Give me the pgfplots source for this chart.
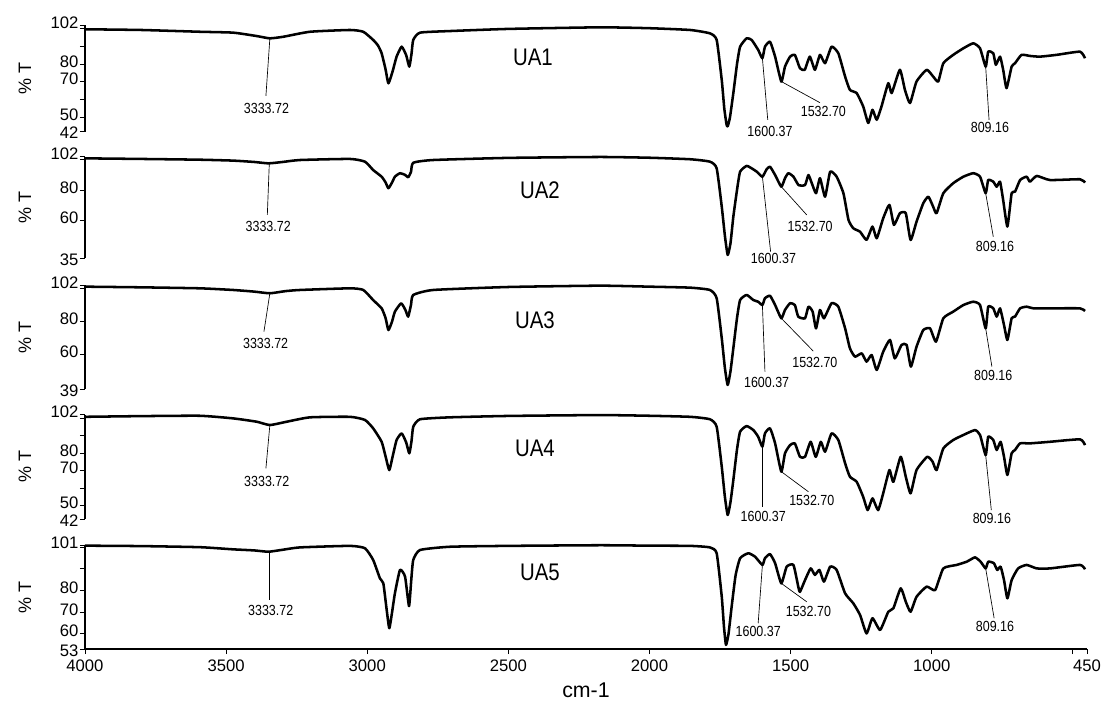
\documentclass[border=0pt]{standalone}
\usepackage{fontspec}
\setmainfont{Liberation Sans}
\newfontfamily\narrowfont{Liberation Sans}[FakeStretch=0.85]
\usepackage{pgfplots}
\pgfplotsset{compat=1.18}
\pgfplotsset{
  spec/.style={
    scale only axis, width=751.5pt,
    xmin=450, xmax=4000, x dir=reverse,
    axis y line*=left,
    tick align=outside,
    major tick length=3.75pt,
    every tick/.style={black, line width=0.6pt},
    axis line style={line width=0.9pt},
    clip=false,
    yticklabel style={font=\fontsize{12.5}{14}\selectfont, inner sep=0pt, xshift=-1pt, yshift=2pt},
    extra y tick style={yticklabel style={yshift=-3pt}},
    ylabel={\% T},
    every axis y label/.style={at={(axis description cs:0,0.5)}, xshift=-45pt, rotate=90, anchor=center, font=\fontsize{13.5}{16}\selectfont},
    /pgf/number format/assume math mode=true,
  },
  upper/.style={axis x line=none, xtick=\empty},
  curve/.style={black, line width=1.9pt, line join=round, smooth, tension=0.3, mark=none},
}
\tikzset{
  ann/.style={black, line width=0.5pt},
  lab/.style={font=\narrowfont\fontsize{11}{12}\selectfont, inner sep=0pt},
  ua/.style={font=\narrowfont\fontsize{18}{20}\selectfont, inner sep=0pt},
}
\begin{document}
\begin{tikzpicture}
\path[use as bounding box] (0,0) rectangle (827.25pt,-528pt);
% ---------------- UA1
\begin{axis}[spec, upper, at={(63.75pt,-18.75pt)}, anchor=north west, height=80.0pt,
  ymin=42, ymax=102, ytick={50,60,70,80,90,100,102}, yticklabels={50,,70,80,,,102},
  extra y ticks={42}, extra y tick labels={42}]
\addplot[curve] coordinates {(4000,99.6)(3800,99.2)(3593,98.2)(3475,97.7)(3392,95.8)(3345,94.5)(3297,95.4)(3203,98.2)(3061,99.2)(3014,98.2)(2979,93.6)(2962,90.5)(2949,86.1)(2935,77)(2925,69.2)(2910,76)(2896,84.2)(2878,89.8)(2862,85)(2851,78.6)(2843,86)(2837,93.6)(2813,97.7)(2707,98.6)(2500,99.8)(2175,100.7)(2000,100.2)(1856,99.2)(1786,97.3)(1762,93.6)(1744,71)(1735,55)(1727,46)(1723,45)(1715,50)(1703,63.7)(1690,80)(1679,89.8)(1656,94.5)(1638,93.6)(1615,88)(1600,83.3)(1591,89.8)(1573,92.6)(1555,84.2)(1533,70.2)(1520,78.6)(1502,84.2)(1485,85.2)(1467,77.7)(1450,76.8)(1432,84.2)(1414,76.8)(1396,85.2)(1378,80.5)(1355,89.8)(1331,86.1)(1307,73)(1290,65.5)(1266,63.7)(1243,56.2)(1225,46.9)(1210,54.3)(1195,48.7)(1178,56.2)(1154,69.3)(1142,63.7)(1113,76.8)(1095,65.5)(1077,58.1)(1054,70.2)(1018,76.8)(995,73)(977,70.2)(959,80.5)(924,85.2)(888,88.9)(853,91.7)(829,88.9)(809,78.6)(800,87)(782,86.1)(773,79.6)(758,84.2)(747,76.8)(735,66.5)(717,78.6)(705,80.5)(682,85.2)(652,84.6)(617,84.2)(558,85.2)(475,87)(457,83.3)};
\draw[ann] (axis cs:3345,94.5) -- (axis cs:3359,62.1);
\node[lab] at (axis cs:3357,55.2) {3333.72};
\draw[ann] (axis cs:1600,83.3) -- (axis cs:1581,48.6);
\node[lab] at (axis cs:1573,42) {1600.37};
\draw[ann] (axis cs:1533,70.2) -- (axis cs:1396,58.3);
\node[lab] at (axis cs:1384,53.3) {1532.70};
\draw[ann] (axis cs:809,78.6) -- (axis cs:797,48.6);
\node[lab] at (axis cs:794,44.5) {809.16};
\node[ua] at (axis cs:2413,84) {UA1};
\end{axis}
% ---------------- UA2
\begin{axis}[spec, upper, at={(63.75pt,-117.5pt)}, anchor=north west, height=76.2pt,
  ymin=35, ymax=102, ytick={60,80,100,102}, yticklabels={60,80,,102},
  extra y ticks={35}, extra y tick labels={35}]
\addplot[curve] coordinates {(4000,100.9)(3800,100.5)(3593,100)(3475,99.4)(3400,98.5)(3350,97.6)(3300,98.5)(3238,99.8)(3061,100.5)(3008,98.7)(2979,93.2)(2949,88.8)(2935,85)(2925,81.2)(2912,85)(2902,88.8)(2884,91.1)(2866,90)(2855,88.4)(2845,92)(2837,98)(2766,99.8)(2500,101.2)(2175,101.8)(2000,101.3)(1856,100.3)(1786,98.7)(1762,94.3)(1744,69)(1733,50)(1723,37.2)(1713,45)(1703,62.4)(1690,80)(1679,92.1)(1656,95.9)(1638,94.3)(1620,92.1)(1600,88.8)(1585,93.7)(1573,95.4)(1555,89.9)(1533,82.2)(1520,87.8)(1508,91.1)(1490,88.8)(1472,83.3)(1449,83.3)(1437,89.9)(1425,84.5)(1410,77.9)(1396,87.8)(1378,75.6)(1360,92.1)(1337,88.8)(1313,77.9)(1295,60.3)(1278,54.8)(1254,52.5)(1231,47.1)(1210,55.9)(1195,48.2)(1172,61.4)(1150,70.2)(1134,57)(1113,64.7)(1092,64.7)(1075,47.1)(1054,59.1)(1030,71.3)(1012,75.6)(995,69)(983,64.7)(959,77.9)(924,84.5)(888,88.8)(853,91.1)(829,88.8)(809,77.9)(800,86.6)(782,85.5)(770,82.2)(758,85.5)(747,73.4)(732,55.9)(717,77.9)(705,78.9)(687,86.6)(664,88.8)(652,85.5)(628,89.3)(581,86.6)(475,87.1)(457,84.9)};
\draw[ann] (axis cs:3347,97.6) -- (axis cs:3354,63.6);
\node[lab] at (axis cs:3351,56.3) {3333.72};
\draw[ann] (axis cs:1600,88.8) -- (axis cs:1571,39.4);
\node[lab] at (axis cs:1561,35) {1600.37};
\draw[ann] (axis cs:1533,82.2) -- (axis cs:1443,63.6);
\node[lab] at (axis cs:1431,56.3) {1532.70};
\draw[ann] (axis cs:809,77.9) -- (axis cs:782,49.2);
\node[lab] at (axis cs:776,42.6) {809.16};
\node[ua] at (axis cs:2388,80) {UA2};
\end{axis}
% ---------------- UA3
\begin{axis}[spec, upper, at={(63.75pt,-213.75pt)}, anchor=north west, height=78.2pt,
  ymin=39, ymax=102, ytick={60,80,100,102}, yticklabels={60,80,,102},
  extra y ticks={39}, extra y tick labels={39}]
\addplot[curve] coordinates {(4000,101)(3800,100.6)(3593,100)(3475,99)(3400,98)(3345,97)(3290,98.3)(3238,99)(3061,100)(3014,99)(2979,92.9)(2949,87.9)(2935,82)(2925,74.8)(2912,80)(2902,85.9)(2880,90.9)(2865,87)(2855,82.9)(2845,90)(2837,96)(2766,99)(2500,100.8)(2175,101.6)(2000,101)(1856,100.4)(1786,99)(1762,94)(1744,69.8)(1733,52)(1723,41.6)(1713,50)(1703,63.8)(1690,82)(1679,92.9)(1656,96)(1632,92.9)(1615,91.9)(1600,89.9)(1591,94)(1573,95.5)(1555,89.9)(1533,81.9)(1520,86.9)(1502,91)(1485,89.9)(1473,82.9)(1449,81.9)(1437,88.9)(1422,85.9)(1410,75.8)(1396,86.9)(1382,81.9)(1355,91)(1331,88.9)(1307,75.8)(1290,63.8)(1272,58.7)(1248,60.7)(1231,55.7)(1213,59.7)(1195,50.7)(1172,61.7)(1148,68.8)(1131,57.7)(1107,65.8)(1089,65.8)(1074,52.7)(1054,64.7)(1030,74.8)(1006,75.8)(985,67.8)(959,81.9)(924,85.9)(888,89.9)(853,91.9)(829,89.9)(809,75.8)(800,88.9)(782,87.9)(770,82.9)(758,87.9)(744,77.8)(732,68.8)(717,81.9)(705,82.9)(687,87.9)(664,88.9)(640,87.9)(581,87.9)(475,87.9)(457,86.3)};
\draw[ann] (axis cs:3345,97) -- (axis cs:3366,73.8);
\node[lab] at (axis cs:3360,66.8) {3333.72};
\draw[ann] (axis cs:1600,89.9) -- (axis cs:1591,49.6);
\node[lab] at (axis cs:1585,43.2) {1600.37};
\draw[ann] (axis cs:1533,81.9) -- (axis cs:1420,62.1);
\node[lab] at (axis cs:1414,55.3) {1532.70};
\draw[ann] (axis cs:809,75.8) -- (axis cs:787,52.7);
\node[lab] at (axis cs:782,47.2) {809.16};
\node[ua] at (axis cs:2406,80.9) {UA3};
\end{axis}
% ---------------- UA4
\begin{axis}[spec, upper, at={(63.75pt,-310.9pt)}, anchor=north west, height=78.6pt,
  ymin=42, ymax=102, ytick={50,60,70,80,90,100,102}, yticklabels={50,,70,80,,,102},
  extra y ticks={42}, extra y tick labels={42}]
\addplot[curve] coordinates {(4000,100.7)(3800,101.1)(3593,101.3)(3475,99.8)(3392,97.9)(3345,96)(3285,97.9)(3203,100.4)(3061,100.7)(3008,98.9)(2979,94.1)(2949,86.4)(2935,78)(2922,70.2)(2910,78)(2896,87.4)(2878,91.2)(2862,86)(2851,79.8)(2843,87)(2837,95)(2813,99.3)(2707,100.4)(2500,101.2)(2175,101.7)(2000,101.3)(1856,100.7)(1786,99.3)(1762,95)(1744,72.1)(1733,55)(1723,44.5)(1713,52)(1703,64.5)(1690,82)(1679,92.2)(1656,95.4)(1632,93.1)(1615,89.3)(1600,83.6)(1591,91.2)(1573,94.1)(1555,85.5)(1533,69.3)(1520,79.8)(1502,84.5)(1485,85.5)(1467,77.8)(1449,77.8)(1429,86.4)(1411,77.8)(1393,86.4)(1378,80.7)(1355,91.2)(1331,87.4)(1307,74.1)(1290,66.4)(1266,63.5)(1243,54.9)(1227,47.3)(1210,54)(1190,47.3)(1172,56.9)(1150,70.2)(1136,63.5)(1110,77.8)(1092,66.4)(1075,56.9)(1054,70.2)(1016,77.8)(997,75)(983,70.2)(959,82.6)(924,87.4)(888,90.3)(847,93.1)(829,90.3)(809,78.8)(800,89.3)(782,87.4)(770,81.7)(756,86.4)(744,77.8)(732,67.4)(717,79.8)(705,81.7)(687,85.5)(652,85.5)(581,86.4)(475,87.8)(457,84.5)};
\draw[ann] (axis cs:3345,96) -- (axis cs:3359,71.2);
\node[lab] at (axis cs:3356,63.5) {3333.72};
\draw[ann] (axis cs:1600,83.6) -- (axis cs:1600,49.2);
\node[lab] at (axis cs:1597,43.5) {1600.37};
\draw[ann] (axis cs:1533,69.3) -- (axis cs:1437,57.8);
\node[lab] at (axis cs:1425,53) {1532.70};
\draw[ann] (axis cs:809,78.8) -- (axis cs:789,47.3);
\node[lab] at (axis cs:787,42.6) {809.16};
\node[ua] at (axis cs:2406,82.8) {UA4};
\end{axis}
% ---------------- UA5
\begin{axis}[spec, at={(63.75pt,-408.75pt)}, anchor=north west, height=78pt,
  axis x line*=bottom,
  ymin=53, ymax=101, ytick={60,70,80,90,100,101}, yticklabels={60,70,80,,,101},
  extra y ticks={53}, extra y tick labels={53},
  xtick={4000,3500,3000,2500,2000,1500,1000,500,450},
  xticklabels={4000,3500,3000,2500,2000,1500,1000,,450},
  xticklabel style={font=\fontsize{12.5}{14}\selectfont, inner sep=1pt, yshift=-3pt},
  xlabel={cm-1},
  every axis x label/.style={at={(axis description cs:0.5,0)}, yshift=-30.75pt, anchor=center, font=\fontsize{16}{18}\selectfont}]
\addplot[curve] coordinates {(4000,100.7)(3800,100.5)(3593,100)(3475,99)(3400,98.5)(3350,97.9)(3300,98.8)(3238,99.9)(3061,100.6)(3008,99.5)(2979,94.1)(2955,85.6)(2943,83.3)(2932,72)(2922,62.6)(2912,70)(2902,78.7)(2884,89.5)(2866,86.4)(2852,72.8)(2844,85)(2837,94.1)(2813,98.7)(2707,100.2)(2500,100.6)(2175,100.9)(2000,100.7)(1856,100.6)(1786,99.9)(1762,97.2)(1744,77.1)(1736,63)(1729,54.9)(1720,60)(1709,72.5)(1695,87)(1679,94.9)(1650,97.2)(1626,95.6)(1600,91.8)(1591,94.9)(1573,96.8)(1555,92.6)(1533,83.3)(1514,91)(1490,91.8)(1473,81.8)(1467,79.4)(1449,84.8)(1429,90.2)(1414,87.2)(1398,89.5)(1382,84.1)(1360,91)(1337,89.5)(1307,78.7)(1278,74.1)(1254,68.7)(1231,60.2)(1210,67.2)(1183,61.8)(1154,70.2)(1136,71.8)(1110,81)(1092,74.8)(1075,70.2)(1054,77.1)(1018,81.8)(988,80.2)(959,90.2)(912,91.8)(876,93.3)(847,95.3)(827,93.3)(809,90.2)(800,93.3)(780,92.6)(768,89.5)(756,91)(744,84.8)(732,76.4)(717,84.8)(694,90.2)(664,91.8)(628,90.2)(581,90.2)(475,91.8)(457,89.8)};
\draw[ann] (axis cs:3347,97.9) -- (axis cs:3347,75.6);
\node[lab] at (axis cs:3342,71) {3333.72};
\draw[ann] (axis cs:1600,91.8) -- (axis cs:1615,64.9);
\node[lab] at (axis cs:1615,61) {1600.37};
\draw[ann] (axis cs:1533,83.3) -- (axis cs:1443,74.8);
\node[lab] at (axis cs:1437,70.2) {1532.70};
\draw[ann] (axis cs:809,90.2) -- (axis cs:779,67.2);
\node[lab] at (axis cs:776,63.3) {809.16};
\node[ua] at (axis cs:2388,88.5) {UA5};
\end{axis}
\end{tikzpicture}
\end{document}
